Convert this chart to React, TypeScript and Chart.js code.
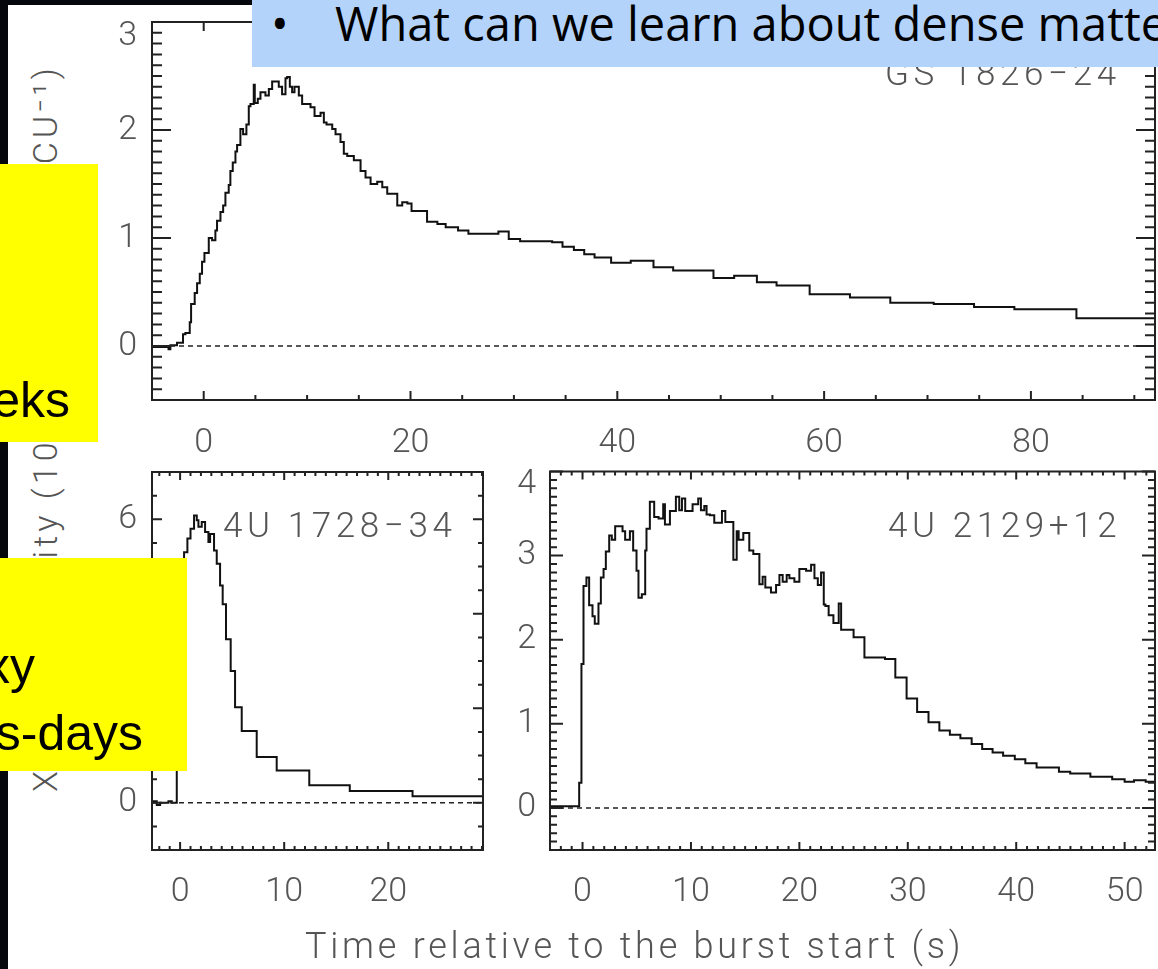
import React, { useEffect, useRef } from "react";
import { Chart, registerables } from "chart.js";

Chart.register(...registerables);

// ---------------- DATA ----------------
// GS 1826-24 : bin start times (s) + final closing edge, and intensities
const gsTime = [-5.2, -3.4, -3.22, -2.58, -2.0, -1.77, -1.35, -1.22, -0.87, -0.64,
  -0.38, -0.16, 0.07, 0.49, 0.81, 1.13, 1.29, 1.62, 1.88, 2.10,
  2.42, 2.58, 2.81, 3.07, 3.23, 3.55, 3.81, 4.13, 4.36, 4.52,
  4.84, 4.94, 5.23, 5.49, 5.97, 6.30, 6.62, 7.26, 7.58, 7.91,
  8.07, 8.33, 8.55, 8.78, 9.20, 9.52, 10.33, 10.72, 11.30, 11.62,
  11.88, 12.43, 12.75, 13.23, 13.55, 13.88, 14.52, 15.17, 15.65, 16.14,
  16.78, 17.27, 17.75, 18.72, 19.2, 19.7, 20.1, 21.6, 22.6, 23.4,
  24.6, 25.6, 28.5, 29.5, 30.6, 33.7, 34.7, 35.8, 36.8, 37.8,
  39.4, 41.3, 43.5, 45.4, 49.3, 51.3, 53.5, 55.4, 58.6, 62.5,
  66.4, 70.6, 74.5, 78.4, 84.4, 92.5];
const gsRate = [-0.01, -0.03, 0.007, 0.03, 0.108, 0.12, 0.22, 0.39, 0.49, 0.58,
  0.67, 0.78, 0.86, 1.0, 0.98, 1.07, 1.16, 1.24, 1.30, 1.42,
  1.49, 1.62, 1.70, 1.80, 1.86, 2.01, 1.96, 2.05, 2.22, 2.24,
  2.42, 2.25, 2.29, 2.35, 2.32, 2.38, 2.45, 2.40, 2.33, 2.48,
  2.49, 2.40, 2.35, 2.40, 2.32, 2.24, 2.21, 2.13, 2.16, 2.07,
  2.05, 2.01, 1.96, 1.89, 1.78, 1.76, 1.72, 1.62, 1.56, 1.50,
  1.52, 1.47, 1.41, 1.30, 1.33, 1.32, 1.25, 1.15, 1.13, 1.10,
  1.07, 1.04, 1.06, 0.99, 0.97, 0.96, 0.92, 0.89, 0.85, 0.82,
  0.77, 0.79, 0.73, 0.70, 0.63, 0.65, 0.59, 0.56, 0.48, 0.45,
  0.40, 0.39, 0.36, 0.34, 0.256];

// 4U 1728-34
const u1728Time = [-2.75, -2.24, -1.92, -1.12, -0.8, -0.32, -0.05, 0.15, 0.38, 0.70,
  1.0, 1.34, 1.6, 1.76, 2.08, 2.40, 2.72, 2.88, 3.26, 3.52,
  3.84, 4.09, 4.41, 4.86, 5.28, 5.92, 7.36, 9.28, 12.41, 16.3,
  22.33, 29.2];
const u1728Rate = [0.03, -0.05, 0.0, 0.03, 0.0, 1.9, 3.3, 4.4, 5.30, 5.59,
  5.80, 6.08, 5.98, 5.84, 5.94, 5.73, 5.52, 5.69, 5.34, 5.06,
  4.60, 4.20, 3.46, 2.79, 2.02, 1.52, 0.97, 0.68, 0.37, 0.25,
  0.14];

// 4U 2129+12
const u2129Time = [-3.1, -0.31, -0.10, 0.09, 0.36, 0.61, 0.92, 1.13, 1.47, 1.69,
  1.94, 2.15, 2.46, 2.70, 3.01, 3.69, 3.93, 4.37, 4.67, 4.98,
  5.16, 5.47, 5.78, 5.90, 6.21, 6.61, 7.01, 7.44, 7.6, 8.06,
  8.61, 8.92, 9.17, 9.47, 10.15, 10.67, 10.92, 11.23, 11.44, 11.75,
  12.15, 12.86, 13.17, 13.91, 14.22, 14.40, 14.83, 15.38, 15.75, 16.31,
  16.61, 16.86, 17.38, 17.85, 18.16, 18.46, 18.83, 19.08, 19.54, 20.0,
  20.62, 21.08, 21.39, 21.7, 22.0, 22.25, 22.4, 22.7, 23.14, 23.63,
  23.85, 25.0, 26.0, 27.9, 28.85, 29.89, 30.86, 31.91, 32.91, 33.88,
  34.85, 35.89, 36.86, 37.82, 38.79, 39.87, 40.84, 41.88, 43.94, 44.98,
  46.84, 48.85, 50.0, 50.86, 51.94, 53.0];
const u2129Rate = [0.02, 0.30, 1.71, 2.64, 2.74, 2.41, 2.28, 2.19, 2.43, 2.74,
  2.84, 3.05, 3.24, 3.19, 3.35, 3.29, 3.19, 3.29, 3.06, 2.82,
  2.50, 2.54, 3.06, 3.32, 3.64, 3.46, 3.44, 3.61, 3.37, 3.53,
  3.70, 3.54, 3.68, 3.53, 3.61, 3.68, 3.54, 3.59, 3.49, 3.48,
  3.39, 3.53, 3.40, 2.95, 3.29, 3.19, 3.27, 3.06, 3.02, 2.66,
  2.75, 2.62, 2.56, 2.65, 2.77, 2.69, 2.77, 2.73, 2.69, 2.84,
  2.82, 2.89, 2.73, 2.65, 2.80, 2.42, 2.40, 2.29, 2.20, 2.43,
  2.12, 2.03, 1.79, 1.77, 1.55, 1.30, 1.14, 1.02, 0.92, 0.87,
  0.83, 0.76, 0.70, 0.66, 0.62, 0.58, 0.53, 0.48, 0.43, 0.41,
  0.37, 0.34, 0.31, 0.33, 0.31];

// tick labels
const gsXTicks = [0, 20, 40, 60, 80];
const gsYTicks = [0, 1, 2, 3];
const u1728XTicks = [0, 10, 20];
const u1728YTicks = [0, 2, 4, 6];
const u2129XTicks = [0, 10, 20, 30, 40, 50];
const u2129YTicks = [0, 1, 2, 3, 4];

const sourceNames = ["GS 1826−24", "4U 1728−34", "4U 2129+12"];
const yTitleA = "X−ray intensity (10³";
const yTitleB = "count s⁻¹ PCU⁻¹)";
const xTitle = "Time relative to the burst start (s)";

// ---------------- LAYOUT / STYLE ----------------
const LABEL_FONT = "Roboto";
const LABEL_COLOR = "#555";

type Spec = {
  left: number; top: number; w: number; h: number;
  yWidth: number; padTop: number; padRight: number; xHeight: number;
  xMin: number; xMax: number; yMin: number; yMax: number;
  time: number[]; rate: number[]; xTicks: number[]; yTicks: number[];
  xMinor: number; xMajor: number; yMinor: number; yMajor: number;
  xMajorLen: number; xMinorLen: number; yMajorLen: number; yMinorLen: number;
  xPad: number; yPad: number; edgeLabelLH: number;
};

const panels: Spec[] = [
  {
    left: 80, top: 0, w: 1078, h: 480, yWidth: 72, padTop: 22, padRight: 3, xHeight: 80,
    xMin: -5, xMax: 92, yMin: -0.5, yMax: 3,
    time: gsTime, rate: gsRate, xTicks: gsXTicks, yTicks: gsYTicks,
    xMinor: 5, xMajor: 20, yMinor: 0.1, yMajor: 1,
    xMajorLen: 9, xMinorLen: 5, yMajorLen: 19, yMinorLen: 10, xPad: 23, yPad: 15, edgeLabelLH: 0.88,
  },
  {
    left: 80, top: 440, w: 410, h: 490, yWidth: 72, padTop: 32, padRight: 7, xHeight: 80,
    xMin: -2.7, xMax: 29.1, yMin: -1, yMax: 7,
    time: u1728Time, rate: u1728Rate, xTicks: u1728XTicks, yTicks: u1728YTicks,
    xMinor: 1, xMajor: 10, yMinor: 0.5, yMajor: 2,
    xMajorLen: 8, xMinorLen: 4, yMajorLen: 10, yMinorLen: 5, xPad: 22, yPad: 15, edgeLabelLH: 1.2,
  },
  {
    left: 495, top: 440, w: 663, h: 490, yWidth: 55, padTop: 31.5, padRight: 3, xHeight: 80,
    xMin: -3, xMax: 52.8, yMin: -0.5, yMax: 4,
    time: u2129Time, rate: u2129Rate, xTicks: u2129XTicks, yTicks: u2129YTicks,
    xMinor: 1, xMajor: 10, yMinor: 0.1, yMajor: 1,
    xMajorLen: 8, xMinorLen: 4, yMajorLen: 13, yMinorLen: 7, xPad: 22, yPad: 14, edgeLabelLH: 0.74,
  },
];

const frameTicks = {
  id: "frameTicks",
  afterDatasetsDraw(chart: any, _a: any, o: any) {
    const { ctx, chartArea: a, scales } = chart;
    const xs = scales.x, ys = scales.y;
    const marks = (sc: any, minor: number, major: number, cb: (p: number, M: boolean) => void) => {
      const n0 = Math.ceil(sc.min / minor - 1e-6), n1 = Math.floor(sc.max / minor + 1e-6);
      for (let n = n0; n <= n1; n++) {
        const v = n * minor;
        const isMajor = Math.abs(v / major - Math.round(v / major)) < 1e-6;
        cb(sc.getPixelForValue(v), isMajor);
      }
    };
    ctx.save();
    ctx.strokeStyle = "#222";
    ctx.lineWidth = 2;
    ctx.beginPath();
    marks(xs, o.xMinor, o.xMajor, (p, M) => {
      const L = M ? o.xMajorLen : o.xMinorLen;
      ctx.moveTo(p, a.bottom); ctx.lineTo(p, a.bottom - L);
      ctx.moveTo(p, a.top); ctx.lineTo(p, a.top + L);
    });
    marks(ys, o.yMinor, o.yMajor, (p, M) => {
      const L = M ? o.yMajorLen : o.yMinorLen;
      ctx.moveTo(a.left, p); ctx.lineTo(a.left + L, p);
      ctx.moveTo(a.right, p); ctx.lineTo(a.right - L, p);
    });
    ctx.stroke();
    ctx.strokeRect(a.left, a.top, a.right - a.left, a.bottom - a.top);
    ctx.restore();
  },
};

function toSteps(time: number[], rate: number[]) {
  const pts = rate.map((r, i) => ({ x: time[i], y: r }));
  pts.push({ x: time[time.length - 1], y: rate[rate.length - 1] });
  return pts;
}

function Panel({ s }: { s: Spec }) {
  const ref = useRef<HTMLCanvasElement>(null);
  useEffect(() => {
    const tickFont = { family: LABEL_FONT, size: 34, weight: "300" as any };
    const isEdge = (v: number) => Math.abs(v - s.yMax) < 1e-9;
    const chart = new Chart(ref.current!, {
      type: "line",
      data: {
        datasets: [
          {
            data: [{ x: s.xMin, y: 0 }, { x: s.xMax, y: 0 }],
            borderColor: "#222", borderWidth: 1.5, borderDash: [5, 4],
            pointRadius: 0,
          },
          {
            data: toSteps(s.time, s.rate),
            stepped: true, borderColor: "#111", borderWidth: 2,
            pointRadius: 0, fill: false,
          },
        ],
      },
      options: {
        responsive: false, animation: false, devicePixelRatio: 1, events: [],
        layout: { padding: { top: s.padTop, right: s.padRight, left: 0, bottom: 0 } },
        plugins: {
          legend: { display: false }, tooltip: { enabled: false },
          frameTicks: {
            xMinor: s.xMinor, xMajor: s.xMajor, yMinor: s.yMinor, yMajor: s.yMajor,
            xMajorLen: s.xMajorLen, xMinorLen: s.xMinorLen, yMajorLen: s.yMajorLen, yMinorLen: s.yMinorLen,
          },
        } as any,
        scales: {
          x: {
            type: "linear", min: s.xMin, max: s.xMax,
            grid: { display: false, drawTicks: false }, border: { display: false },
            ticks: { color: LABEL_COLOR, font: tickFont, padding: s.xPad, autoSkip: false, maxRotation: 0 },
            afterBuildTicks: (sc: any) => { sc.ticks = s.xTicks.map((v) => ({ value: v })); },
            afterFit: (sc: any) => {
              sc.height = s.xHeight;
              sc.paddingLeft = 0; sc.paddingRight = 0; sc.paddingTop = 0; sc.paddingBottom = 0;
            },
          },
          y: {
            type: "linear", min: s.yMin, max: s.yMax,
            grid: { display: false, drawTicks: false }, border: { display: false },
            ticks: {
              color: LABEL_COLOR, padding: s.yPad, autoSkip: false,
              // label on the top edge of the frame is pushed down inside, as in the original plot
              callback: (v: any) => (isEdge(Number(v)) ? ["", String(v)] : String(v)),
              font: (c: any) => (c.tick && isEdge(c.tick.value) ? { ...tickFont, lineHeight: s.edgeLabelLH } : tickFont),
            },
            afterBuildTicks: (sc: any) => { sc.ticks = s.yTicks.map((v) => ({ value: v })); },
            afterFit: (sc: any) => {
              sc.width = s.yWidth;
              sc.paddingLeft = 0; sc.paddingRight = 0; sc.paddingTop = 0; sc.paddingBottom = 0;
            },
          },
        } as any,
      },
      plugins: [frameTicks as any],
    });
    return () => chart.destroy();
  }, []);
  return (
    <canvas ref={ref} width={s.w} height={s.h}
      style={{ position: "absolute", left: s.left, top: s.top, width: s.w, height: s.h }} />
  );
}

const labelStyle: React.CSSProperties = {
  position: "absolute", fontFamily: LABEL_FONT, fontWeight: 300, fontSize: 35,
  lineHeight: "35px", color: LABEL_COLOR, letterSpacing: 4.6, whiteSpace: "nowrap",
};

export default function App() {
  return (
    <div style={{ position: "absolute", left: 0, top: 0, width: 1158, height: 969, overflow: "hidden", background: "#06070d" }}>
      <div style={{ position: "absolute", left: 8, top: 5, right: 0, bottom: 0, background: "#fff" }} />
      {panels.map((s, i) => <Panel key={i} s={s} />)}
      <div style={{ ...labelStyle, left: 885, top: 56 }}>{sourceNames[0]}</div>
      <div style={{ ...labelStyle, left: 223, top: 508 }}>{sourceNames[1]}</div>
      <div style={{ ...labelStyle, left: 888, top: 508 }}>{sourceNames[2]}</div>
      <div style={{ ...labelStyle, fontSize: 36, lineHeight: "36px", letterSpacing: 3.75, left: 305, top: 928 }}>{xTitle}</div>
      <div style={{
        position: "absolute", left: 45 - 364, top: 428 - 20, width: 728, height: 40,
        transform: "rotate(-90deg)", transformOrigin: "50% 50%", display: "flex",
        justifyContent: "space-between", alignItems: "center", fontFamily: LABEL_FONT,
        fontWeight: 300, fontSize: 34, lineHeight: "40px", color: LABEL_COLOR, letterSpacing: 4.1, whiteSpace: "nowrap",
      }}>
        <span>{yTitleA}</span><span>{yTitleB}</span>
      </div>
      {/* slide overlays */}
      <div style={{ position: "absolute", left: 252, top: 0, width: 906, height: 67, background: "#b3d3fb", overflow: "hidden",
        fontFamily: "'Open Sans', sans-serif", fontSize: 47, lineHeight: "47px", color: "#000", whiteSpace: "nowrap" }}>
        <span style={{ position: "absolute", left: 19, top: 0 }}>•</span>
        <span style={{ position: "absolute", left: 83, top: 0 }}>What can we learn about dense matter?</span>
      </div>
      <div style={{ position: "absolute", left: 0, top: 164, width: 98, height: 278, background: "#ffff00", overflow: "hidden",
        fontFamily: "'Liberation Sans', Arial, sans-serif", fontSize: 50, lineHeight: "50px", color: "#000", whiteSpace: "nowrap" }}>
        <span style={{ position: "absolute", right: 28, top: 211 }}>eks</span>
      </div>
      <div style={{ position: "absolute", left: 0, top: 558, width: 187, height: 213, background: "#ffff00", overflow: "hidden",
        fontFamily: "'Liberation Sans', Arial, sans-serif", fontSize: 50, lineHeight: "50px", color: "#000", whiteSpace: "nowrap" }}>
        <span style={{ position: "absolute", right: 152, top: 83 }}>xy</span>
        <span style={{ position: "absolute", right: 44, top: 150 }}>s-days</span>
      </div>
    </div>
  );
}
